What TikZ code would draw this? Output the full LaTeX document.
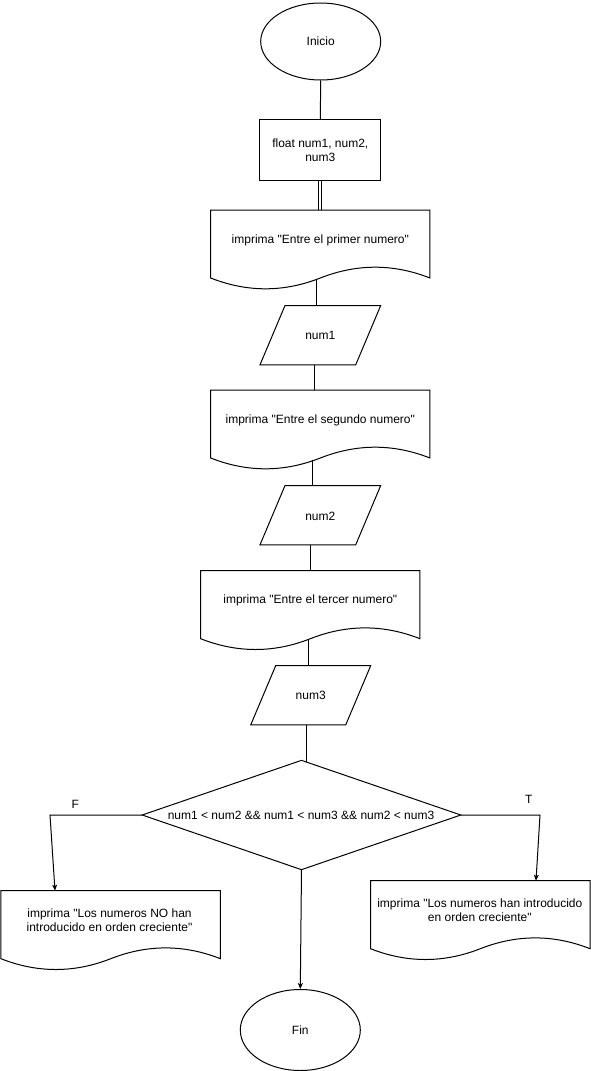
\documentclass[tikz,border=0pt]{standalone}
\usepackage{fontspec}
\setmainfont{Liberation Sans}[Ligatures=TeXOff]
\usetikzlibrary{calc,arrows.meta,shapes.geometric}
\tikzset{
  shp/.style={draw=black, line width=1pt},
  txt/.style={font=\fontsize{12}{13.4}\selectfont, align=center, inner sep=0pt},
  box/.style={inner sep=0pt, outer sep=0pt},
  term/.style={shp, ellipse, inner sep=0pt, minimum width=120pt, font=\fontsize{12}{13.4}\selectfont},
  conn/.style={draw=black, line width=1pt},
  arr/.style={conn, -{Stealth[length=6pt,width=5pt,inset=1.5pt]}},
}
\newcommand\docoutline[1]{%
  \draw[shp] let \p1=(#1.north west), \p2=(#1.south east), \n1={\x2-\x1}, \n2={\y1-\y2} in
  (\x1,\y1) -- (\x2,\y1) -- (\x2,{\y2+0.15*\n2})
  .. controls ({\x2-\n1/6},{\y2+0.33*\n2}) and ({\x1+2*\n1/3},{\y2+0.33*\n2}) .. ({\x1+\n1/2},{\y2+0.15*\n2})
  .. controls ({\x1+\n1/3},{\y2-0.03*\n2}) and ({\x1+\n1/6},{\y2-0.03*\n2}) .. (\x1,{\y2+0.15*\n2}) -- cycle;}
\newcommand\paraoutline[1]{%
  \draw[shp] ($(#1.north west)+(25,0)$) -- (#1.north east) -- ($(#1.south east)+(-25,0)$) -- (#1.south west) -- cycle;}
\begin{document}
\begin{tikzpicture}[x=1pt,y=1pt]
\useasboundingbox (0,0) rectangle (591,-1071);
\fill[white] (0,0) rectangle (591,-1071);

% start
\node[term, minimum height=77pt] (ini) at (320.7,-41.5) {Inicio};
% declaration
\node[shp, box, minimum width=120.7pt, minimum height=60.7pt, txt] (r) at (320.3,-150.3) {float num1, num2,\\num3};
% doc 1
\node[box, minimum width=219.3pt, minimum height=80pt] (d1) at (320.3,-250) {};
\docoutline{d1}
\node[txt] (d1t) at (320.3,-240) {imprima "Entre el primer numero"};
% input 1
\node[box, minimum width=120.7pt, minimum height=59.3pt] (p1) at (320.3,-335.3) {};
\paraoutline{p1}
\node[txt] (p1t) at (320.3,-335.3) {num1};
% doc 2
\node[box, minimum width=219.3pt, minimum height=80pt] (d2) at (320.3,-430) {};
\docoutline{d2}
\node[txt] (d2t) at (320.3,-420) {imprima "Entre el segundo numero"};
% input 2
\node[box, minimum width=120.7pt, minimum height=59.3pt] (p2) at (320.3,-515.3) {};
\paraoutline{p2}
\node[txt] (p2t) at (320.3,-516.5) {num2};
% doc 3
\node[box, minimum width=219.3pt, minimum height=80pt] (d3) at (310.3,-610.7) {};
\docoutline{d3}
\node[txt] (d3t) at (310.3,-600.5) {imprima "Entre el tercer numero"};
% input 3
\node[box, minimum width=120pt, minimum height=59.3pt] (p3) at (310.7,-695.3) {};
\paraoutline{p3}
\node[txt] (p3t) at (310.7,-695.5) {num3};
% decision
\node[box, minimum width=318.6pt, minimum height=109.3pt] (dm) at (301.5,-815) {};
\draw[shp] (dm.north) -- (dm.east) -- (dm.south) -- (dm.west) -- cycle;
\node[txt] (dmt) at (301,-815.5) {num1 < num2 \&\& num1 < num3 \&\& num2 < num3};
% false output
\node[box, minimum width=219.5pt, minimum height=80pt] (ld) at (110.7,-930.7) {};
\docoutline{ld}
\node[txt] (ldt) at (109.5,-920) {imprima "Los numeros NO han\\introducido en orden creciente"};
% true output
\node[box, minimum width=219.5pt, minimum height=80pt] (rd) at (480.3,-920.7) {};
\docoutline{rd}
\node[txt] (rdt) at (479.8,-910) {imprima "Los numeros han introducido\\en orden creciente"};
% end
\node[term, minimum height=81pt] (fin) at (300.3,-1030) {Fin};

% connectors
\draw[conn] (ini.south) -- (r.north);
\draw[conn] ([xshift=-1.8pt]r.south) -- ([xshift=-1.8pt]r.south |- d1.north);
\draw[conn] ([xshift=0.8pt]r.south) -- ([xshift=0.8pt]r.south |- d1.north);
\draw[conn] ([xshift=-4.3pt,yshift=11pt]d1.south) -- ([xshift=-4.3pt]d1.south |- p1.north);
\draw[conn] ([xshift=-6pt]p1.south) -- ([xshift=-6pt]p1.south |- d2.north);
\draw[conn] ([xshift=-8pt,yshift=10.5pt]d2.south) -- ([xshift=-8pt]d2.south |- p2.north);
\draw[conn] ([xshift=-9.6pt]p2.south) -- ([xshift=-9.6pt]p2.south |- d3.north);
\draw[conn] ([xshift=-1.6pt,yshift=11.5pt]d3.south) -- ([xshift=-1.6pt]d3.south |- p3.north);
\draw[conn] ([xshift=-4pt]p3.south) -- ([xshift=5.2pt,yshift=-1.8pt]dm.north);

\coordinate (fl) at (50,-815);
\coordinate (tr) at (540,-815);
\draw[arr] (dm.west) -- (fl) -- ([xshift=-55.7pt]ld.north);
\draw[arr] (dm.east) -- (tr) -- ([xshift=55.7pt]rd.north);
\draw[arr] (dm.south) -- (fin.north);

\node[txt] (lf) at (75.4,-804.3) {F};
\node[txt] (lt) at (528.8,-799) {T};
\end{tikzpicture}
\end{document}
